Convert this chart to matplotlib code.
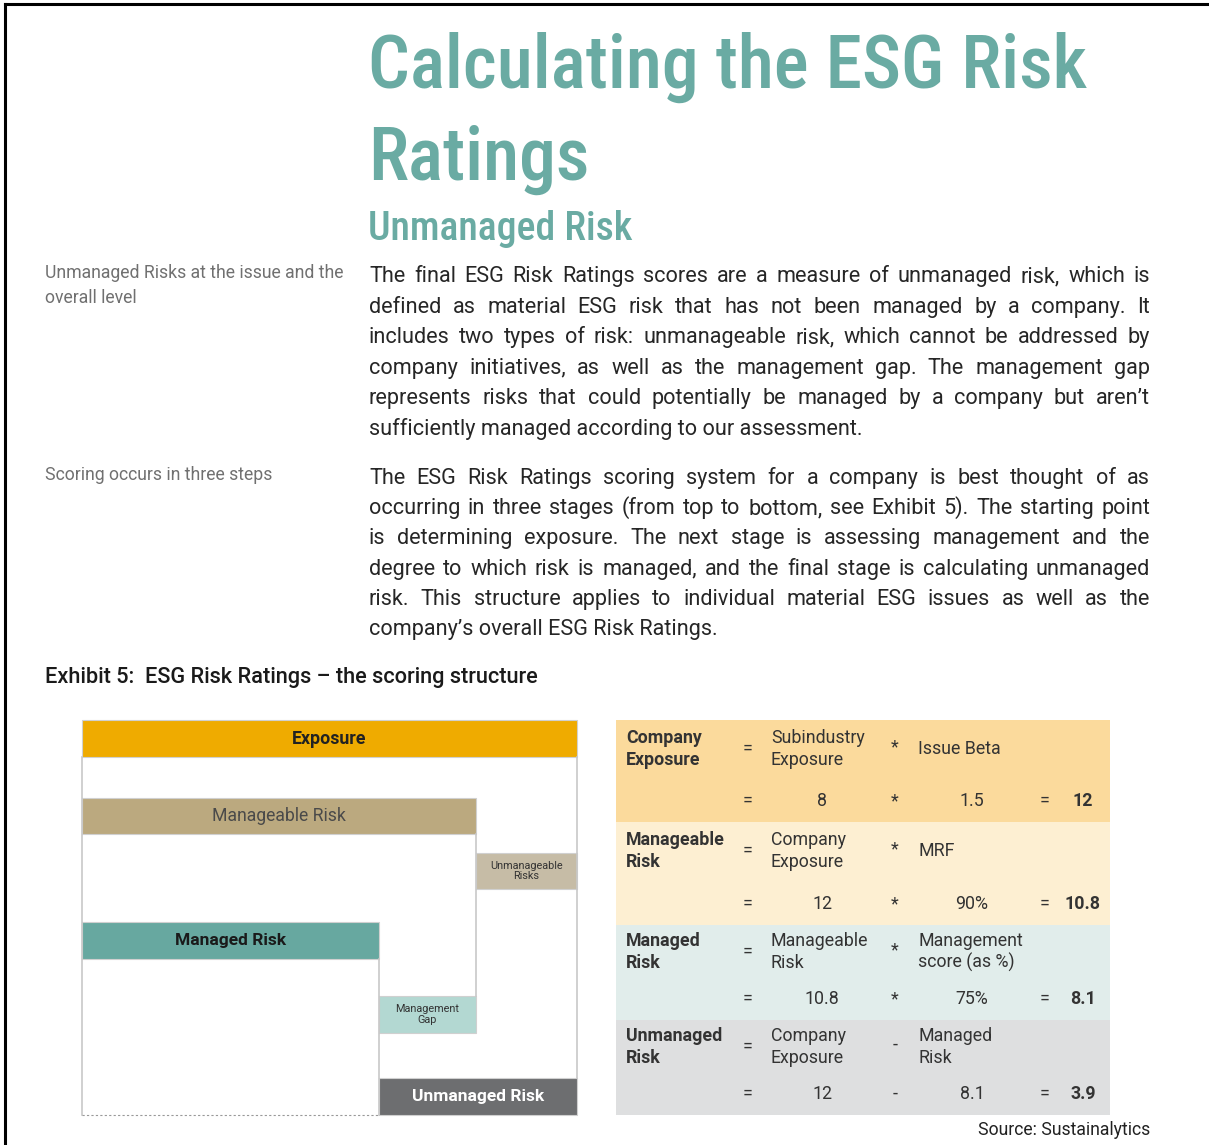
#!/usr/bin/env python3
"""ESG Risk Ratings page: title, justified text, scoring diagram and worked table."""
import matplotlib
matplotlib.use("Agg")
import matplotlib.pyplot as plt
from matplotlib import font_manager
from matplotlib.patches import Rectangle

# ---- Text content ----
TITLE_LINES = ["Calculating the ESG Risk", "Ratings"]
SUBTITLE = "Unmanaged Risk"
SIDE_NOTES = [["Unmanaged Risks at the issue and the", "overall level"],
              ["Scoring occurs in three steps"]]
PARA1 = [
    "The final ESG Risk Ratings scores are a measure of unmanaged risk, which is",
    "defined as material ESG risk that has not been managed by a company. It",
    "includes two types of risk: unmanageable risk, which cannot be addressed by",
    "company initiatives, as well as the management gap. The management gap",
    "represents risks that could potentially be managed by a company but aren\u2019t",
    "sufficiently managed according to our assessment.",
]
PARA2 = [
    "The ESG Risk Ratings scoring system for a company is best thought of as",
    "occurring in three stages (from top to bottom, see Exhibit 5). The starting point",
    "is determining exposure. The next stage is assessing management and the",
    "degree to which risk is managed, and the final stage is calculating unmanaged",
    "risk. This structure applies to individual material ESG issues as well as the",
    "company\u2019s overall ESG Risk Ratings.",
]
EXHIBIT = "Exhibit 5:  ESG Risk Ratings \u2013 the scoring structure"
SOURCE = "Source: Sustainalytics"

# ---- Diagram labels ----
DIAGRAM_LABELS = ["Exposure", "Manageable Risk", "Unmanageable\nRisks",
                  "Managed Risk", "Management\nGap", "Unmanaged Risk"]

# ---- Table ----
row_labels = ["Company\nExposure", "Manageable\nRisk", "Managed\nRisk", "Unmanaged\nRisk"]
term_a = ["Subindustry\nExposure", "Company\nExposure", "Manageable\nRisk", "Company\nExposure"]
ops = ["*", "*", "*", "-"]
term_b = ["Issue Beta", "MRF", "Management\nscore (as %)", "Managed\nRisk"]
val_a = ["8", "12", "10.8", "12"]
val_b = ["1.5", "90%", "75%", "8.1"]
results = ["12", "10.8", "8.1", "3.9"]

# ---- Style ----
TEAL = "#6aaba3"
TXT = "#262626"
GREY_TXT = "#707070"
BAND = ["#fbda9c", "#fdefd2", "#e1edeb", "#dedfe0"]

names = {f.name for f in font_manager.fontManager.ttflist}
FONT = "Roboto" if "Roboto" in names else "DejaVu Sans"
COND = "Roboto Condensed" if "Roboto Condensed" in names else FONT
plt.rcParams["font.family"] = [FONT, "DejaVu Sans"]

fig = plt.figure(figsize=(12.09, 11.45), dpi=100)
ax = fig.add_axes([0, 0, 1, 1])
ax.set_xlim(0, 1209)
ax.set_ylim(1145, 0)
ax.axis("off")
renderer = fig.canvas.get_renderer()


def width_of(t):
    return t.get_window_extent(renderer).width


def fit(t, target):
    # shrink/grow the font so the text spans the target width in pixels
    t.set_fontsize(t.get_fontsize() * target / width_of(t))


def justify(lines, x0, x1, y0, dy, **kw):
    for i, line in enumerate(lines):
        y = y0 + i * dy
        if i == len(lines) - 1:
            ax.text(x0, y, line, va="baseline", **kw)
            continue
        words = line.split(" ")
        ts = [ax.text(x0, y, w, va="baseline", **kw) for w in words]
        ws = [width_of(t) for t in ts]
        gap = (x1 - x0 - sum(ws)) / (len(words) - 1)
        x = x0
        for t, w in zip(ts, ws):
            t.set_x(x)
            x += w + gap


# page frame
ax.plot([5, 1209], [4, 4], color="black", lw=2.2)
ax.plot([5, 5], [4, 1145], color="black", lw=2.2)

# titles
t = ax.text(368, 88, TITLE_LINES[0], color=TEAL, fontsize=46, family=COND,
            fontweight="medium", va="baseline")
fit(t, 718)
ax.text(368, 180, TITLE_LINES[1], color=TEAL, fontsize=t.get_fontsize(), family=COND,
        fontweight="medium", va="baseline")
t2 = ax.text(368, 240, SUBTITLE, color=TEAL, fontsize=24, family=COND,
             fontweight="medium", va="baseline")
fit(t2, 265)

# side notes
ts = ax.text(45, 278, SIDE_NOTES[0][0], color=GREY_TXT, fontsize=12, va="baseline")
fit(ts, 299)
for lines, y in zip(SIDE_NOTES, [278, 480]):
    for j, line in enumerate(lines):
        if (y, j) == (278, 0):
            continue
        ax.text(45, y + j * 25, line, color=GREY_TXT, fontsize=ts.get_fontsize(),
                va="baseline")

# body paragraphs
justify(PARA1, 369, 1150, 282, 30.6, fontsize=15.6, color=TXT)
justify(PARA2, 369, 1150, 484, 30.2, fontsize=15.6, color=TXT)

# exhibit heading
te = ax.text(45, 683, EXHIBIT, fontsize=14.5, color="#1a1a1a", fontweight="medium",
             va="baseline")
fit(te, 496)

# ---- Diagram ----
bars = [  # x0, x1, y0, y1, colour
    (82, 577, 720, 757, "#efab00"),
    (82, 476, 798, 834, "#bba97f"),
    (476, 577, 853, 889, "#c6bca6"),
    (82, 379, 922, 959, "#67a8a0"),
    (379, 476, 996, 1033, "#b3d8d2"),
    (379, 577, 1078, 1115, "#6d6e70"),
]
lab_style = [
    dict(fontsize=12.8, fontweight="bold", color="#222222"),
    dict(fontsize=12.7, color="#4a4a4a"),
    dict(fontsize=7.8, color="#333333", linespacing=1.1),
    dict(fontsize=12.5, fontweight="bold", color="#1a1a1a"),
    dict(fontsize=7.8, color="#333333", linespacing=1.1),
    dict(fontsize=12.5, fontweight="bold", color="white"),
]
for (x0, x1, y0, y1, c), lab, st in zip(bars, DIAGRAM_LABELS, lab_style):
    ax.add_patch(Rectangle((x0, y0), x1 - x0, y1 - y0, facecolor=c,
                           edgecolor="#d0d0d0", lw=0.8))
    ax.text((x0 + x1) / 2, (y0 + y1) / 2, lab, ha="center", va="center", **st)

LINE = "#c8c8c8"
ax.plot([82, 82], [757, 1115], color=LINE, lw=1.2)
ax.plot([577, 577], [757, 1078], color=LINE, lw=1.2)
ax.plot([476, 476], [834, 996], color=LINE, lw=1.2)
ax.plot([379, 379], [959, 1115], color=LINE, lw=1.2)
ax.plot([82, 379], [1115, 1115], color="#999999", lw=0.8, ls=(0, (2, 2)))

# ---- Table ----
TX0, TX1 = 616, 1110
edges = [720, 822, 925, 1020, 1115]
tstyle = dict(fontsize=12.8, color="#333333", linespacing=1.25)
for i in range(4):
    y0, y1 = edges[i], edges[i + 1]
    ax.add_patch(Rectangle((TX0, y0), TX1 - TX0, y1 - y0, facecolor=BAND[i], lw=0))
    yt = y0 + 29 if i < 2 else y0 + 27
    yn = y1 - 21
    ax.text(626, yt, row_labels[i], va="center", ha="left", fontweight="bold", **tstyle)
    ax.text(748, yt, "=", va="center", ha="center", **tstyle)
    ax.text(771, yt, term_a[i], va="center", ha="left", **tstyle)
    ax.text(895, yt - 2, ops[i], va="center", ha="center", **tstyle)
    ax.text(918, yt, term_b[i], va="center", ha="left", **tstyle)
    ax.text(748, yn, "=", va="center", ha="center", **tstyle)
    ax.text(822, yn, val_a[i], va="center", ha="center", **tstyle)
    ax.text(895, yn, ops[i], va="center", ha="center", **tstyle)
    ax.text(972, yn, val_b[i], va="center", ha="center", **tstyle)
    ax.text(1045, yn, "=", va="center", ha="center", **tstyle)
    ax.text(1083, yn, results[i], va="center", ha="center", fontweight="bold", **tstyle)

ax.text(1150, 1130, SOURCE, ha="right", va="center", fontsize=12.7, color="#222222")

fig.savefig("out.png", dpi=100)
